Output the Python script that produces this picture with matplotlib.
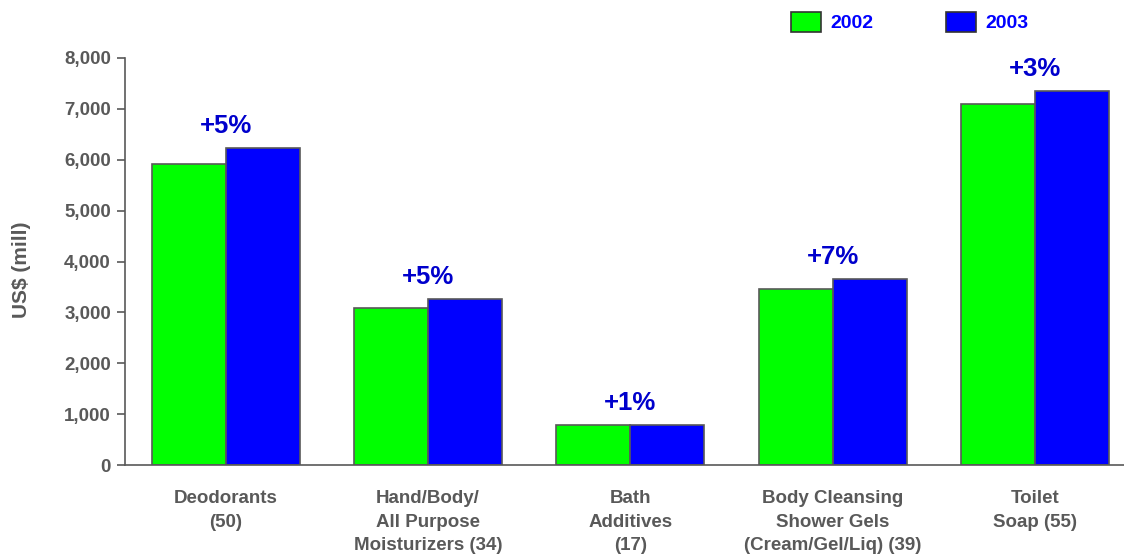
import numpy as np
import matplotlib.pyplot as plt
from matplotlib.patches import Rectangle

plt.rcParams['font.family'] = ['Liberation Sans', 'DejaVu Sans']
plt.rcParams['font.weight'] = 'bold'

# DATA
categories = ['Deodorants\n(50)', 'Hand/Body/\nAll Purpose\nMoisturizers (34)', 'Bath\nAdditives\n(17)',
              'Body Cleansing\nShower Gels\n(Cream/Gel/Liq) (39)', 'Toilet\nSoap (55)']
sales_2002 = [5920, 3090, 790, 3460, 7090]
sales_2003 = [6230, 3260, 795, 3660, 7350]
growth = ['+5%', '+5%', '+1%', '+7%', '+3%']
yticks = [0, 1000, 2000, 3000, 4000, 5000, 6000, 7000, 8000]
years = ['2002', '2003']

grey = '#595959'
green = '#00FF00'
blue = '#0000FF'

W, H = 1124, 557
fig = plt.figure(figsize=(W / 100, H / 100), dpi=100)
ax = fig.add_axes([0.111, 0.165, 0.889, 0.731])

x = np.arange(len(categories))
w = 0.366
ax.bar(x - w / 2, sales_2002, w, color=green, edgecolor=grey, linewidth=1.2)
ax.bar(x + w / 2, sales_2003, w, color=blue, edgecolor=grey, linewidth=1.2)

# growth labels above each pair
for i in range(len(categories)):
    top = max(sales_2002[i], sales_2003[i])
    ax.text(x[i], top + 430, growth[i], ha='center', va='center',
            color='#0000CC', fontsize=18.5, fontweight='bold')

ax.set_xlim(-0.5, 4.44)
ax.set_ylim(0, 8000)
ax.set_yticks(yticks)
ax.set_yticklabels(['{:,}'.format(v) for v in yticks])
ax.set_xticks(x)
ax.set_xticklabels(categories, linespacing=1.5)
ax.tick_params(axis='y', colors=grey, labelcolor=grey, labelsize=13.5, length=6, width=1.2, pad=4)
ax.tick_params(axis='x', length=0, labelcolor=grey, labelsize=13.5, pad=18)
for t in ax.get_xticklabels() + ax.get_yticklabels():
    t.set_fontweight('bold')

for s in ['top', 'right']:
    ax.spines[s].set_visible(False)
for s in ['left', 'bottom']:
    ax.spines[s].set_color(grey)
    ax.spines[s].set_linewidth(1.2)

fig.text(22 / W, 1 - 270 / H, 'US$ (mill)', rotation=90, color=grey, fontsize=15,
         fontweight='bold', ha='center', va='center')

# legend drawn in pixel positions along the top
legend_boxes = [(791, green), (946, blue)]
for (px, col), label in zip(legend_boxes, years):
    fig.patches.append(Rectangle((px / W, 1 - 32 / H), 30 / W, 20 / H, transform=fig.transFigure,
                                 facecolor=col, edgecolor='#333333', linewidth=1.2))
    fig.text((px + 39) / W, 1 - 24 / H, label, color=blue, fontsize=14, fontweight='bold',
             ha='left', va='center')

fig.savefig('out.png', dpi=100)
